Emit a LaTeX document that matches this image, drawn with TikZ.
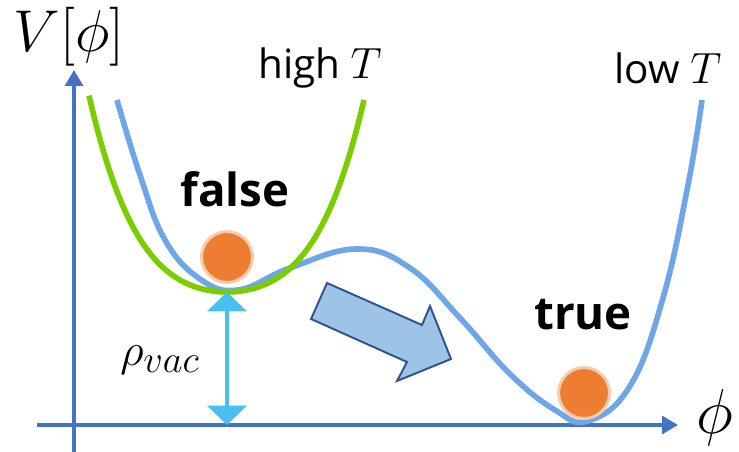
\documentclass[tikz,border=0pt]{standalone}
\usepackage{fontspec}
\setsansfont{Open Sans}
\usetikzlibrary{arrows.meta}
\definecolor{axisblue}{RGB}{68,114,196}
\definecolor{lowblue}{RGB}{110,166,232}
\definecolor{highgreen}{RGB}{122,206,0}
\definecolor{gapblue}{RGB}{75,190,240}
\definecolor{ballorange}{RGB}{237,125,49}
\definecolor{ballring}{RGB}{248,203,173}
\definecolor{pushfill}{RGB}{157,195,230}
\definecolor{pushline}{RGB}{47,82,143}
\tikzset{
  axis/.style={axisblue, line width=2.3pt},
  curve/.style={line width=3.2pt},
  ball/.style={circle, fill=ballorange, draw=ballring, line width=1.7pt, minimum size=29pt, inner sep=0pt},
  gap/.style={gapblue, line width=2.8pt, {Triangle[width=22pt,length=11pt]}-{Triangle[width=22pt,length=11pt]}},
  push/.style={fill=pushfill, draw=pushline, line width=1.1pt, line join=miter},
  word/.style={font=\sffamily\fontsize{23}{27}\selectfont},
  state/.style={font=\sffamily\bfseries\fontsize{26}{30}\selectfont},
  bigmath/.style={font=\Huge, scale=#1}
}
\begin{document}
\begin{tikzpicture}[x=0.02cm, y=-0.02cm, >={Triangle[width=10pt,length=9pt]}]
\useasboundingbox (0,0) rectangle (739,452);
% axes
\coordinate (xstart) at (37,425);
\coordinate (xend) at (678,425);
\coordinate (ystart) at (74,452);
\coordinate (yend) at (74,70);
\draw[axis,->](xstart)--(xend);
\draw[axis,->](ystart)--(yend);
\node[bigmath=1.45] (philabel) at (715,418) {$\phi$};
\node[bigmath=1.35] (Vlabel) at (69,37) {$V[\phi]$};
% potentials
\draw[curve, lowblue] plot[smooth, tension=0.7] coordinates {(117,100) (140,175) (165,240) (200,279) (238,290) (290,268) (357,249) (410,268) (460,318) (510,374) (555,410) (588,421) (630,386) (663,298) (688,185) (702,100)};
\draw[curve, highgreen, domain=89:364, samples=80] plot(\x, {292-47.9*((\x-227)/100)^2-29*((\x-227)/100)^4});
\node[word] (highT) at (320,68) {high $T$};
\node[word] (lowT) at (668,68) {low $T$};
% vacua
\node[ball] (falseball) at (227,257) {};
\node[ball] (trueball) at (584,393) {};
\node[state] (falsetext) at (235,189) {false};
\node[state] (truetext) at (583,315) {true};
\coordinate (fmin) at (227,292);
\coordinate (fbase) at (227,425);
\draw[gap] (fmin) -- (fbase);
\node[bigmath=1.05] (rho) at (160,360) {$\rho_{vac}$};
% decay
\draw[push] (327,283) -- (422,325) -- (430,306) -- (451,359) -- (397,381) -- (407,362) -- (311,319) -- cycle;
\end{tikzpicture}
\end{document}
